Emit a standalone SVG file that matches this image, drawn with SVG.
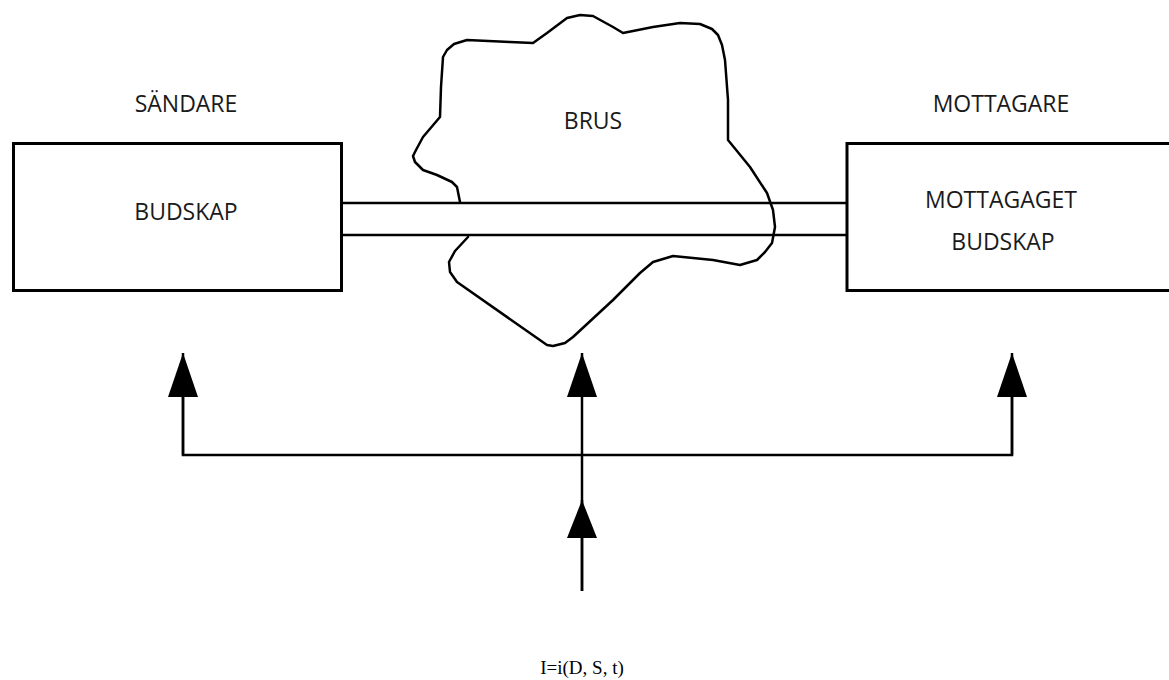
<svg xmlns="http://www.w3.org/2000/svg" width="1169" height="680" viewBox="0 0 1169 680">
  <style>
    .lbl { font-family: "Open Sans", "Noto Sans", sans-serif; font-size: 23px; fill: #1a1a1a; text-anchor: middle; }
    .formula { font-family: "Liberation Serif", serif; font-size: 19px; fill: #000; text-anchor: middle; }
    .box { fill: #fff; stroke: #000; stroke-width: 3; }
    .wire { fill: none; stroke: #000; stroke-width: 2.5; }
    .cloud { fill: none; stroke: #000; stroke-width: 2.5; stroke-linejoin: round; stroke-linecap: round; }
  </style>
  <defs>
    <marker id="arrow" markerUnits="userSpaceOnUse" markerWidth="44" markerHeight="30" refX="44" refY="15" orient="auto" viewBox="0 0 44 30">
      <path d="M0,0 L44,15 L0,30 Z" fill="#000"/>
    </marker>
    <marker id="arrowS" markerUnits="userSpaceOnUse" markerWidth="38" markerHeight="30" refX="38" refY="15" orient="auto" viewBox="0 0 38 30">
      <path d="M0,0 L38,15 L0,30 Z" fill="#000"/>
    </marker>
  </defs>
  <rect width="1169" height="680" fill="#fff"/>

  <g id="brus">
    <path class="cloud" d="M460,202 L457,187 L452,182 L437,175 L423,170 L415,162 L413,156 L416,150 L423,137 L440,117 L441,87 L443,57 L447,50 L454,44 L467,40 L510,42 L533,43 L547,33 L567,18 L580,15 L593,16 L613,27 L623,33 L653,27 L680,23 L700,24 L712,29 L718,35 L722,45 L725,60 L728,100 L728,140 L750,167 L767,193 L773,210 L775,227 L772,243 L765,252 L757,260 L740,265 L713,260 L673,256 L653,262 L640,273 L613,300 L573,337 L565,343 L553,346 L547,345 L457,282 L450,272 L449,262 L455,251 L468,237"/>
    <text class="lbl" x="593" y="129">BRUS</text>
  </g>

  <g id="channel">
    <line class="wire" x1="342" y1="203" x2="847" y2="203"/>
    <line class="wire" x1="342" y1="235" x2="847" y2="235"/>
  </g>

  <g id="sandare">
    <text class="lbl" x="186" y="112">SÄNDARE</text>
    <rect class="box" x="13.5" y="143.5" width="328" height="147"/>
    <text class="lbl" x="186" y="220">BUDSKAP</text>
  </g>

  <g id="mottagare">
    <text class="lbl" x="1001" y="112">MOTTAGARE</text>
    <rect class="box" x="847" y="143.5" width="330" height="147"/>
    <text class="lbl" x="1001" y="208">MOTTAGAGET</text>
    <text class="lbl" x="1003" y="250">BUDSKAP</text>
  </g>

  <g id="connectors">
    <polyline class="wire" points="183,397 183,455 1012,455 1012,397"/>
    <line class="wire" x1="183" y1="455" x2="183" y2="353" marker-end="url(#arrow)"/>
    <line class="wire" x1="1012" y1="455" x2="1012" y2="353" marker-end="url(#arrow)"/>
    <line class="wire" x1="582" y1="591" x2="582" y2="353" marker-end="url(#arrow)"/>
    <line class="wire" x1="582" y1="591" x2="582" y2="500" marker-end="url(#arrowS)"/>
  </g>

  <g id="formula">
    <text class="formula" x="582" y="674">I=i(D, S, t)</text>
  </g>
</svg>
